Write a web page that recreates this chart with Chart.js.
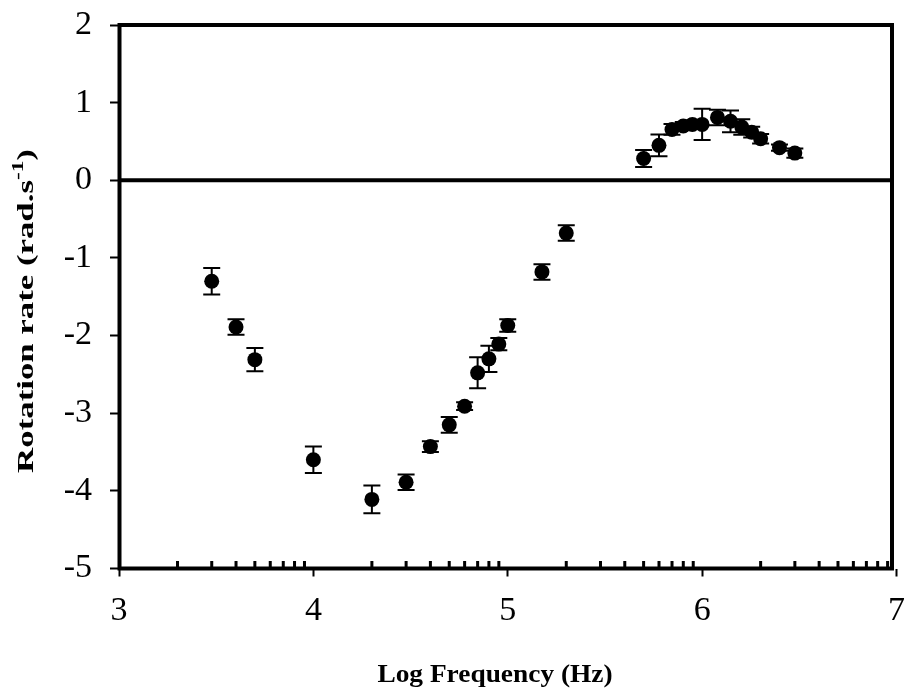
<!DOCTYPE html>
<html>
<head>
<meta charset="utf-8">
<script src="https://cdn.jsdelivr.net/npm/chart.js@4.4.1/dist/chart.umd.min.js"></script>
<style>
html,body{margin:0;padding:0;background:#fff;}
#wrap{width:910px;height:694px;}
</style>
</head>
<body>
<div id="wrap"><canvas id="c" width="910" height="694"></canvas></div>
<script>
// ---- data ----
const logFreq = [3.477, 3.602, 3.699, 4.0, 4.301, 4.477, 4.602, 4.699, 4.778, 4.845, 4.903, 4.954, 5.0, 5.176, 5.301,
                 5.699, 5.778, 5.845, 5.903, 5.950, 6.0, 6.079, 6.146, 6.204, 6.255, 6.301, 6.398, 6.477];
const rotationRate = [-1.30, -1.89, -2.31, -3.60, -4.11, -3.89, -3.43, -3.15, -2.91, -2.48, -2.30, -2.11, -1.87, -1.18, -0.68,
                      0.28, 0.45, 0.655, 0.70, 0.72, 0.72, 0.81, 0.76, 0.685, 0.62, 0.535, 0.42, 0.35];
const rateError = [0.17, 0.10, 0.15, 0.17, 0.18, 0.10, 0.07, 0.10, 0.05, 0.20, 0.17, 0.08, 0.08, 0.10, 0.10,
                   0.11, 0.14, 0.07, 0.05, 0.05, 0.20, 0.10, 0.14, 0.10, 0.07, 0.06, 0.04, 0.06];
const xTickLabels = [3, 4, 5, 6, 7];
const yTickLabels = [-5, -4, -3, -2, -1, 0, 1, 2];
const minorMultipliers = [2, 3, 4, 5, 6, 7, 8, 9];
const xTitle = 'Log Frequency (Hz)';
const yTitleMain = 'Rotation rate (rad.s';
const yTitleSup = '-1';
const yTitleEnd = ')';

const FONT = '"Liberation Serif", "Times New Roman", serif';

const overlay = {
  id: 'overlay',
  beforeDatasetsDraw(chart) {
    const ctx = chart.ctx, xs = chart.scales.x, ys = chart.scales.y;
    ctx.save();
    ctx.strokeStyle = '#000';
    ctx.lineWidth = 2;
    logFreq.forEach((xv, i) => {
      const px = xs.getPixelForValue(xv);
      const top = ys.getPixelForValue(rotationRate[i] + rateError[i]);
      const bot = ys.getPixelForValue(rotationRate[i] - rateError[i]);
      ctx.beginPath();
      ctx.moveTo(px, top); ctx.lineTo(px, bot);
      ctx.moveTo(px - 8.5, top); ctx.lineTo(px + 8.5, top);
      ctx.moveTo(px - 8.5, bot); ctx.lineTo(px + 8.5, bot);
      ctx.stroke();
    });
    ctx.restore();
  },
  afterDraw(chart) {
    const ctx = chart.ctx, xs = chart.scales.x, ys = chart.scales.y, a = chart.chartArea;
    const right = a.right - 4.5;
    ctx.save();
    ctx.strokeStyle = '#000';
    // frame
    ctx.lineWidth = 4;
    ctx.strokeRect(a.left + 0.5, a.top, right - (a.left + 0.5), a.bottom - a.top);
    // zero line
    const y0 = ys.getPixelForValue(0);
    ctx.beginPath(); ctx.moveTo(a.left, y0); ctx.lineTo(right, y0); ctx.stroke();
    // minor ticks (inward)
    ctx.lineWidth = 3;
    ctx.beginPath();
    for (let d = 3; d < 7; d++) {
      minorMultipliers.forEach(m => {
        const px = xs.getPixelForValue(d + Math.log10(m));
        ctx.moveTo(px, a.bottom); ctx.lineTo(px, a.bottom - 7.5);
      });
    }
    ctx.stroke();
    // x title
    ctx.fillStyle = '#000';
    ctx.save();
    ctx.translate(495, 682);
    ctx.scale(1.19, 1.05);
    ctx.font = 'bold 23px ' + FONT;
    ctx.textAlign = 'center';
    ctx.textBaseline = 'alphabetic';
    ctx.fillText(xTitle, 0, 0);
    ctx.restore();
    // y title with superscript
    ctx.save();
    ctx.translate(33, 311);
    ctx.rotate(-Math.PI / 2);
    ctx.scale(1.45, 1);
    ctx.textAlign = 'left';
    ctx.textBaseline = 'alphabetic';
    const mainFont = 'bold 24px ' + FONT, supFont = 'bold 16px ' + FONT;
    ctx.font = mainFont; const w1 = ctx.measureText(yTitleMain).width; const w3 = ctx.measureText(yTitleEnd).width;
    ctx.font = supFont; const w2 = ctx.measureText(yTitleSup).width;
    let x = -(w1 + w2 + w3) / 2;
    ctx.font = mainFont; ctx.fillText(yTitleMain, x, 0); x += w1;
    ctx.font = supFont; ctx.fillText(yTitleSup, x, -10); x += w2;
    ctx.font = mainFont; ctx.fillText(yTitleEnd, x, 0);
    ctx.restore();
    ctx.restore();
  }
};

new Chart(document.getElementById('c'), {
  type: 'scatter',
  data: {
    datasets: [{
      data: logFreq.map((x, i) => ({ x: x, y: rotationRate[i] })),
      pointRadius: 7.5,
      pointHoverRadius: 7.5,
      pointBackgroundColor: '#000',
      pointBorderColor: '#000',
      pointBorderWidth: 0,
      showLine: false
    }]
  },
  options: {
    responsive: false,
    animation: false,
    events: [],
    layout: { padding: { top: 25, right: 13.5, left: 0, bottom: 0 } },
    plugins: { legend: { display: false }, tooltip: { enabled: false } },
    scales: {
      x: {
        type: 'linear', min: 3, max: 7,
        afterBuildTicks: s => { s.ticks = xTickLabels.map(v => ({ value: v })); },
        afterFit: s => { s.height = 125.5; s.paddingLeft = 0; s.paddingRight = 0; },
        ticks: { color: '#000', font: { family: FONT, size: 34 }, padding: 14, maxRotation: 0 },
        grid: { drawOnChartArea: false, drawTicks: true, tickLength: 8, tickWidth: 2, tickColor: '#000' },
        border: { display: false }
      },
      y: {
        type: 'linear', min: -5, max: 2,
        afterBuildTicks: s => { s.ticks = yTickLabels.map(v => ({ value: v })); },
        afterFit: s => { s.width = 119; s.paddingTop = 0; s.paddingBottom = 0; },
        ticks: { color: '#000', font: { family: FONT, size: 34 }, padding: 18 },
        grid: { drawOnChartArea: false, drawTicks: true, tickLength: 9, tickWidth: 2, tickColor: '#000' },
        border: { display: false }
      }
    }
  },
  plugins: [overlay]
});
</script>
</body>
</html>
